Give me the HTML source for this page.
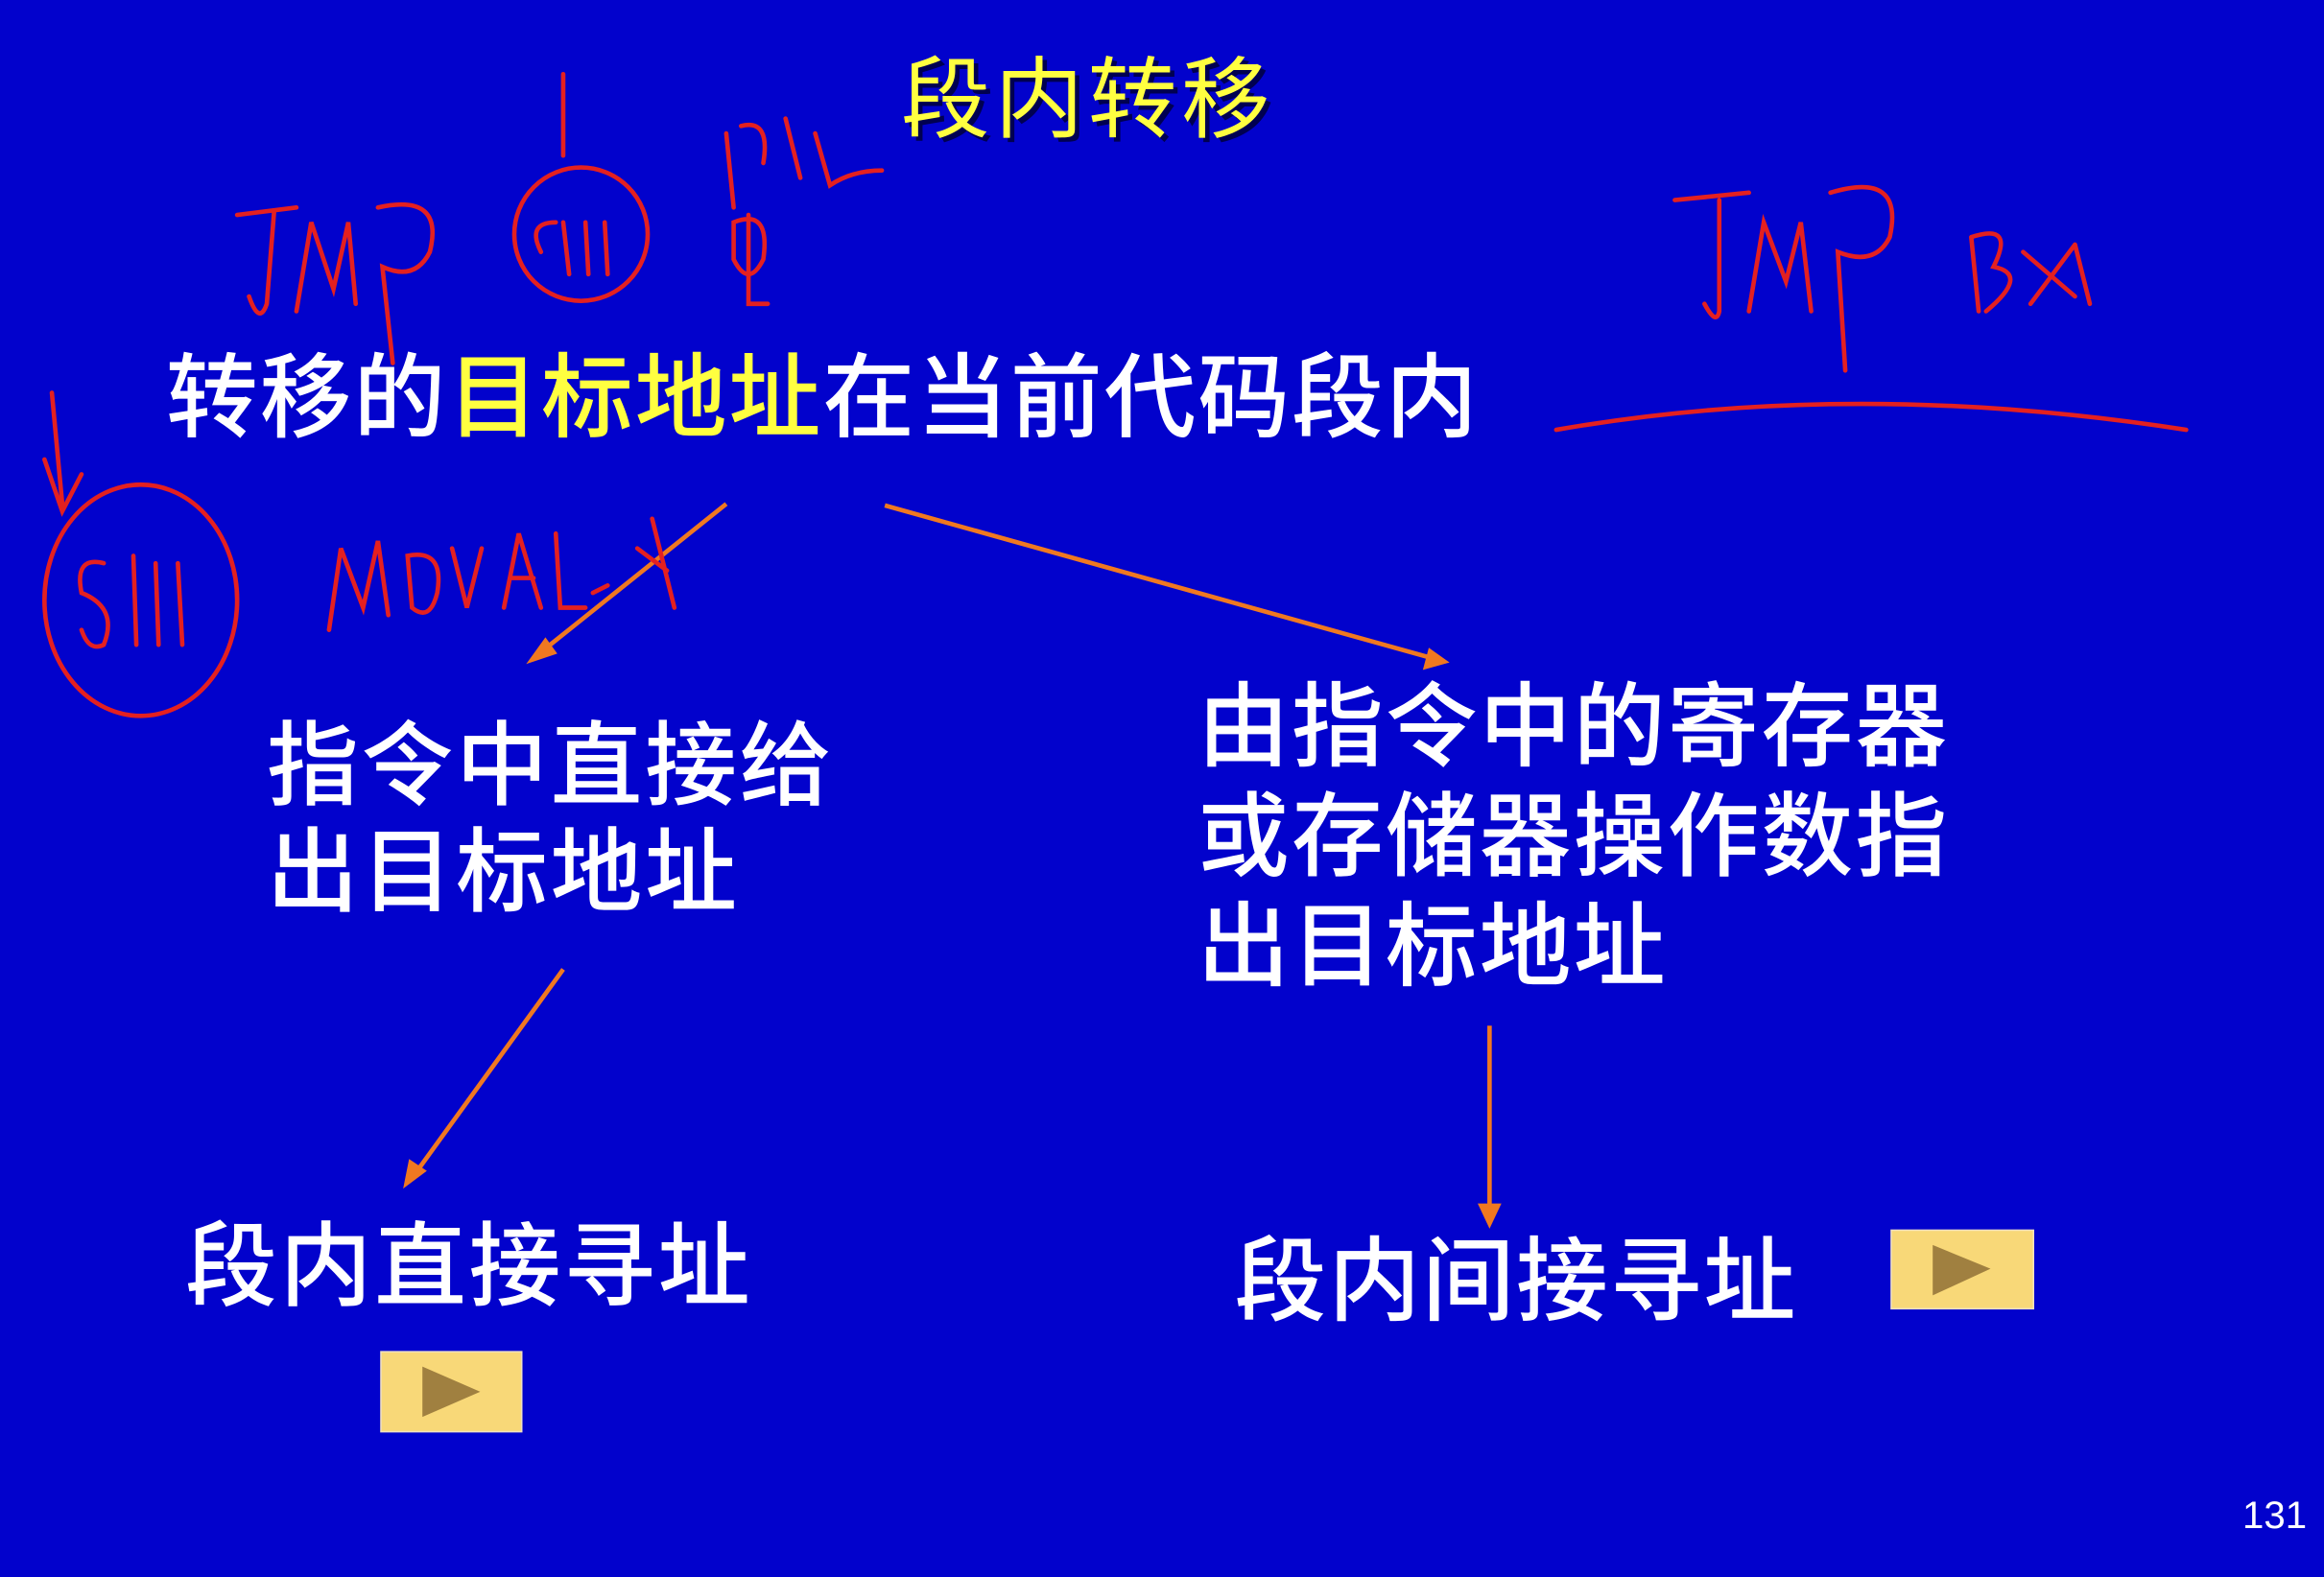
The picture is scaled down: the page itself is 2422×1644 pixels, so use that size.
<!DOCTYPE html>
<html><head><meta charset="utf-8"><style>
html,body{margin:0;padding:0;background:#0202cc;}
svg{display:block}
text{font-family:"Liberation Sans","Noto Sans CJK SC",sans-serif;}
</style></head><body>
<svg width="2422" height="1644" viewBox="0 0 1568 1064" preserveAspectRatio="none" xmlns="http://www.w3.org/2000/svg">
<rect width="1568" height="1064" fill="#0202cc"/>
<g font-size="60" fill="#000" opacity="0.6" letter-spacing="3">
<text x="611" y="91">段内转移</text>
</g>
<text x="608" y="88" font-size="60" fill="#ffff40" letter-spacing="3">段内转移</text>
<g font-size="62" fill="#fff" font-weight="500">
<text x="112" y="290" letter-spacing="1.3">转移的<tspan fill="#ffff40">目标地址</tspan>在当前代码段内</text>
<text x="180" y="538" letter-spacing="1.8">指令中直接给</text>
<text x="180" y="610" letter-spacing="1.8">出目标地址</text>
<text x="808" y="512" letter-spacing="1.4">由指令中的寄存器</text>
<text x="808" y="586" letter-spacing="1.4">或存储器操作数指</text>
<text x="808" y="660" letter-spacing="1.4">出目标地址</text>
<text x="125" y="876" letter-spacing="1.8">段内直接寻址</text>
<text x="833" y="886" letter-spacing="1.3">段内间接寻址</text>
</g>
<text x="1513" y="1031" font-size="26" fill="#fff" font-family="Liberation Serif,serif">131</text>
<!-- buttons -->
<rect x="257" y="912" width="95" height="54" fill="#f8d878" stroke="#f0e0c0"/>
<polygon points="285,922 285,956 324,939" fill="#a08040"/>
<rect x="1276" y="830" width="96" height="53" fill="#f8d878" stroke="#f0e0c0"/>
<polygon points="1304,840 1304,874 1343,856" fill="#a08040"/>
<!-- arrows -->
<g stroke="#f07820" stroke-width="3" fill="#f07820">
<line x1="490" y1="340" x2="365" y2="440"/>
<polygon points="355,448 368,430 376,441" stroke="none"/>
<line x1="597" y1="341" x2="966" y2="444"/>
<polygon points="978,447 960,452 964,437" stroke="none"/>
<line x1="380" y1="654" x2="280" y2="792"/>
<polygon points="272,802 276,782 288,790" stroke="none"/>
<line x1="1005" y1="692" x2="1005" y2="815"/>
<polygon points="1005,829 997,812 1013,812" stroke="none"/>
</g>
<!-- handwriting -->
<g stroke="#e42020" stroke-width="3" fill="none" stroke-linecap="round">
<path d="M160,145 L200,140 M185,142 L180,205 Q175,220 168,200"/>
<path d="M200,210 L210,150 L225,195 L235,150 L240,205"/>
<path d="M255,140 Q300,130 290,170 Q280,190 258,180 L265,245"/>
<ellipse cx="392" cy="158" rx="45" ry="45"/>
<path d="M380,50 L380,105"/>
<path d="M365,170 Q355,150 375,150 M380,150 L384,185 M395,150 L397,185 M408,150 L410,185"/>
<path d="M490,90 L495,140 M500,85 Q520,80 515,110 M530,80 L540,120 M550,90 L560,125 Q575,115 595,115"/>
<path d="M495,150 Q520,140 515,175 Q505,195 495,175 Z M505,145 L505,205 L518,205"/>
<path d="M1130,135 L1180,130 M1160,135 L1160,210 Q1158,220 1150,205 M1180,210 L1190,150 L1205,190 L1215,150 L1222,210 M1235,130 Q1285,115 1275,160 Q1265,180 1240,170 L1245,250"/>
<path d="M1330,160 L1335,210 M1330,160 Q1360,150 1345,180 Q1370,185 1340,210 M1365,170 L1400,200 M1400,165 L1370,205 M1400,165 L1410,205"/>
<path d="M1050,290 Q1250,255 1475,290"/>
<path d="M35,265 L42,340 M30,310 L42,345 L55,320"/>
<ellipse cx="95" cy="405" rx="65" ry="78"/>
<path d="M70,380 Q50,375 55,400 Q80,410 70,435 Q60,440 55,425 M90,375 L92,435 M105,380 L107,435 M120,380 L123,435"/>
<path d="M222,425 L230,370 L245,410 L255,365 L262,415 M275,375 Q300,370 295,400 Q290,420 278,410 Z M305,370 L315,410 L325,370"/>
<path d="M340,410 L350,360 L365,410 M345,390 L360,390 M375,360 L378,410 L395,410 M400,400 L410,395 M440,350 L455,410 M430,370 L450,385"/>
</g>
</svg>
</body></html>
